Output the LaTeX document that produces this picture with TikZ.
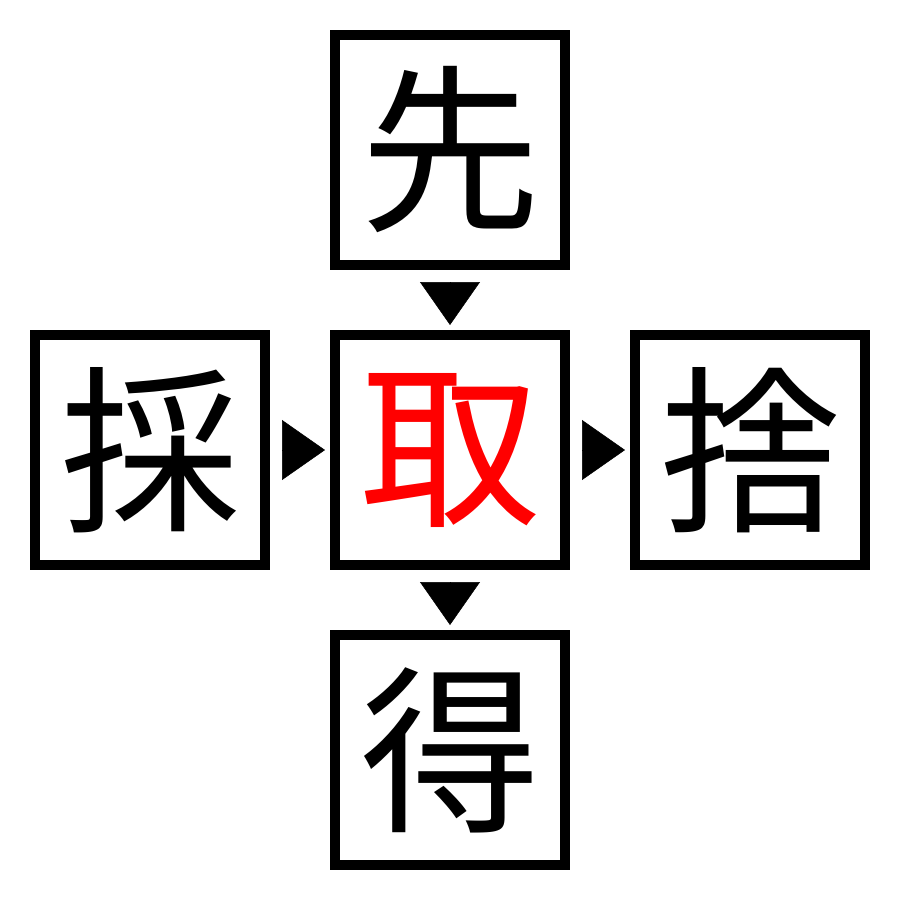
\documentclass[tikz,border=0pt]{standalone}
\usepackage{fontspec}
\newfontfamily\cjk{Noto Sans CJK JP}
\usetikzlibrary{arrows.meta}
\begin{document}
\begin{tikzpicture}[x=1pt,y=-1pt,
  kbox/.style={draw=black,line width=10pt,minimum size=230pt,inner sep=0pt,
    font=\cjk\fontsize{180}{180}\selectfont},
  tri/.style={line width=0.5pt,-{Triangle[length=43pt,width=60pt]},shorten <=12pt,shorten >=5pt}]
\useasboundingbox (0,0) rectangle (900,900);
\fill[white] (0,0) rectangle (900,900);
\node[kbox] (top) at (450,150) {先};
\node[kbox] (left) at (150,450) {採};
\node[kbox,text=red] (mid) at (450,450) {取};
\node[kbox] (right) at (750,450) {捨};
\node[kbox] (bot) at (450,750) {得};
\draw[tri] (top) -- (mid);
\draw[tri] (left) -- (mid);
\draw[tri] (mid) -- (right);
\draw[tri] (mid) -- (bot);
\end{tikzpicture}
\end{document}
